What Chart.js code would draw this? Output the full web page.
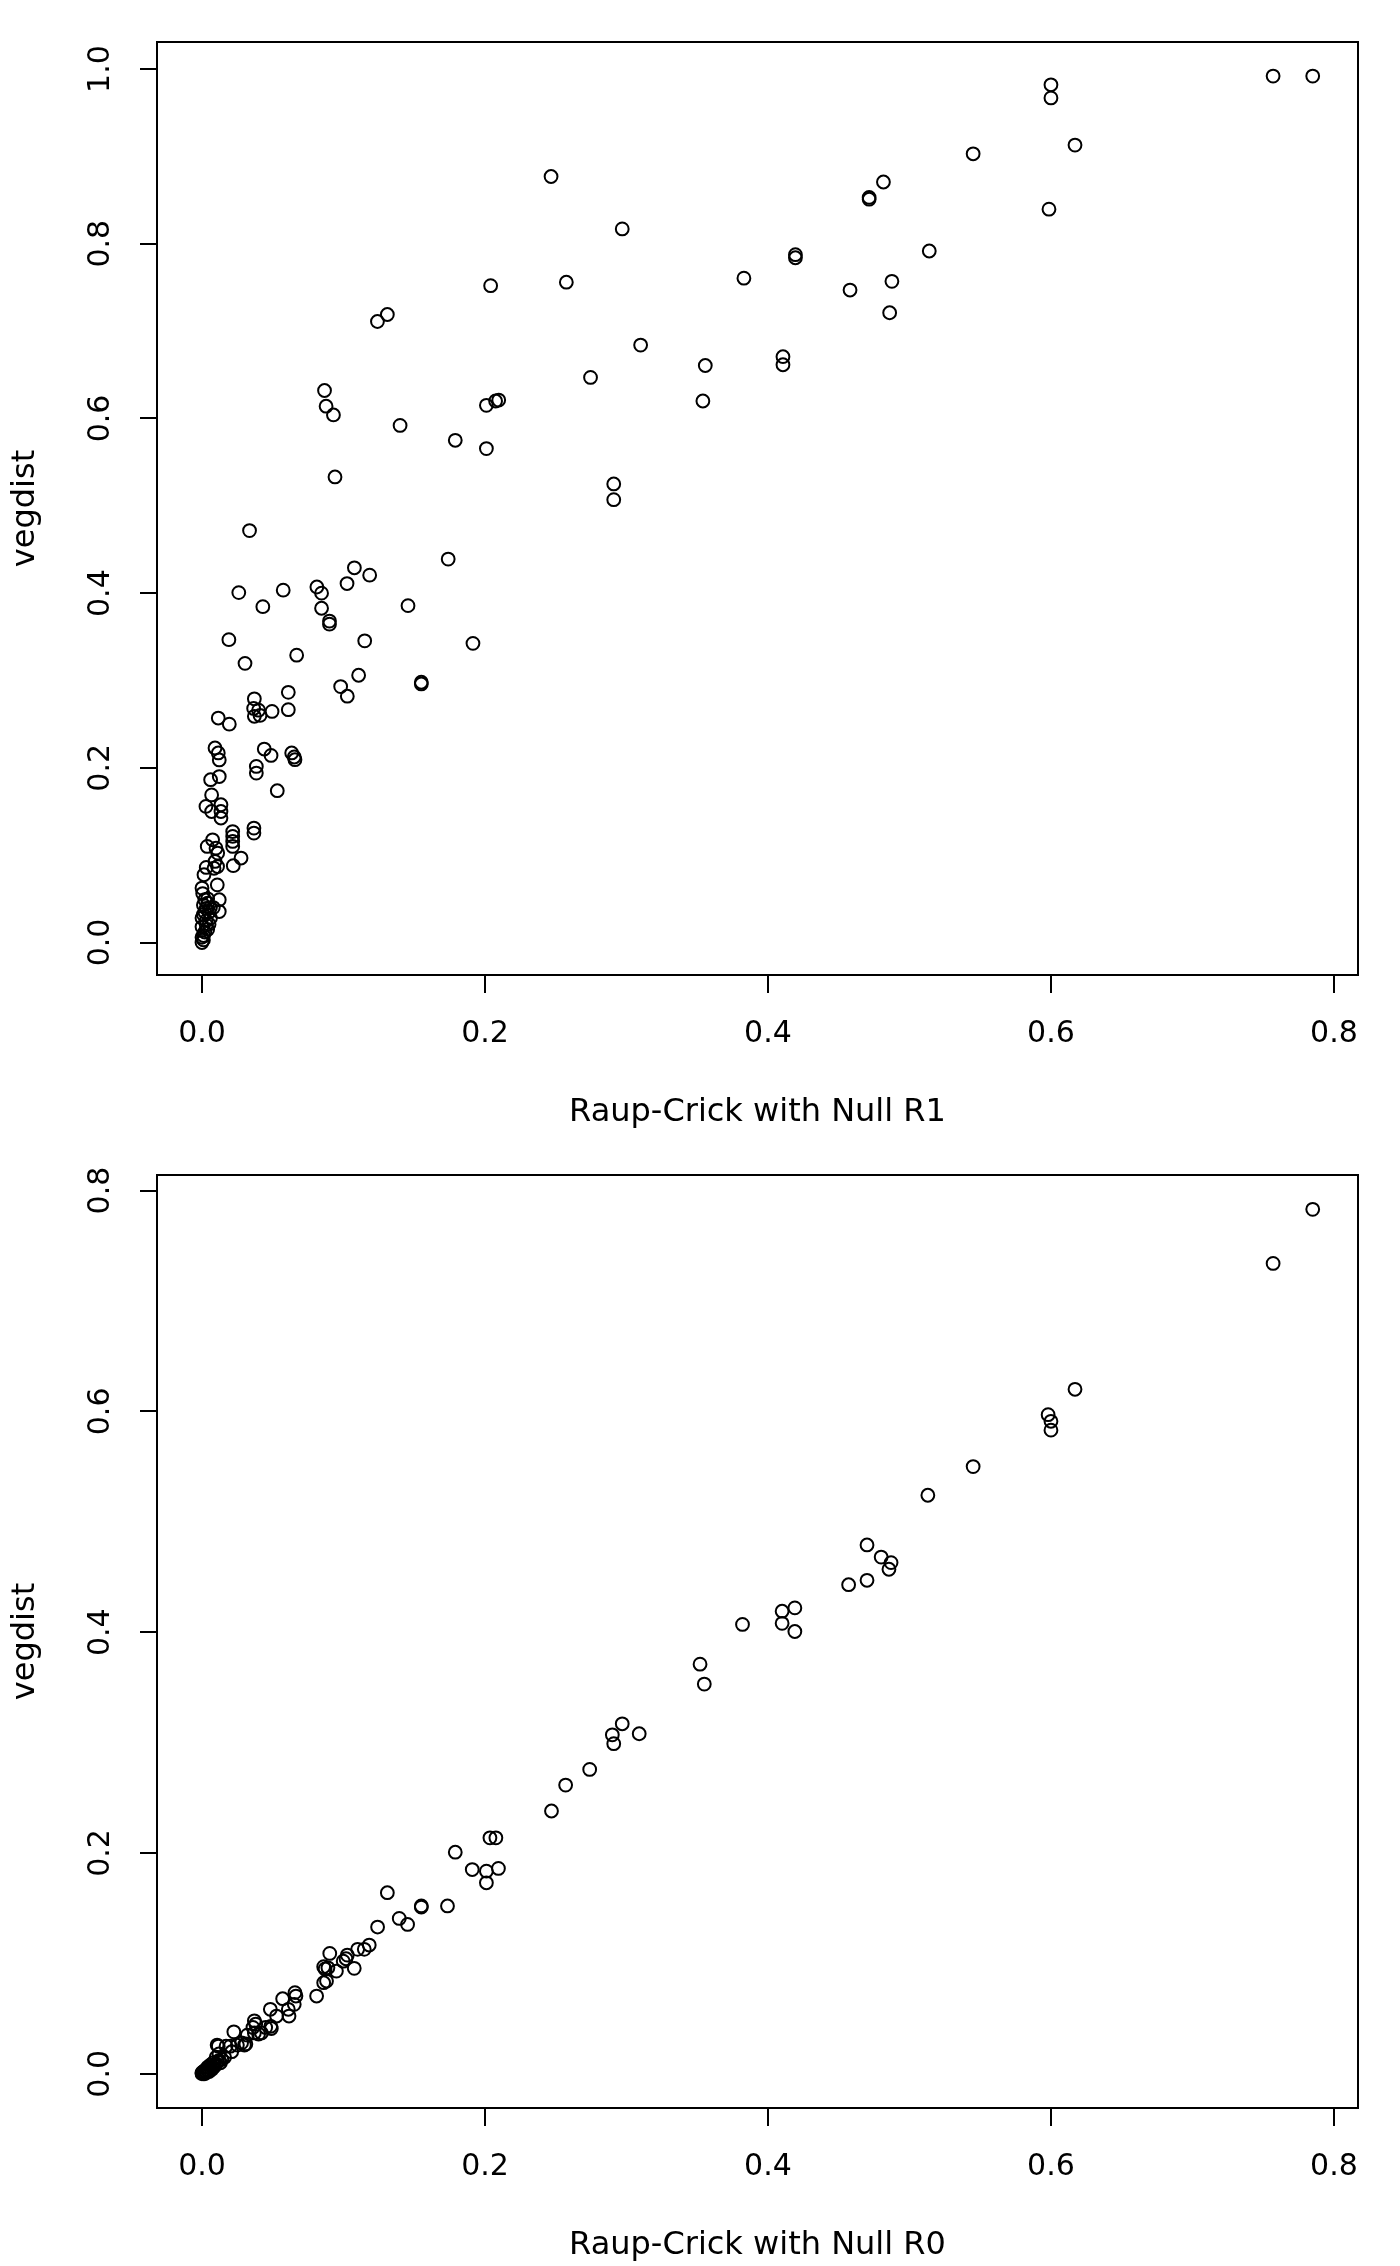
<!DOCTYPE html>
<html>
<head>
<meta charset="utf-8">
<script src="https://cdn.jsdelivr.net/npm/chart.js@4.4.0/dist/chart.umd.min.js"></script>
<style>
  body { margin: 0; background: #fff; }
  canvas { display: block; }
</style>
</head>
<body>
<canvas id="plotR1" width="1400" height="1133"></canvas>
<canvas id="plotR0" width="1400" height="1133"></canvas>
<script>
// Raup-Crick (null R1) vs vegdist
const r1X = [
  0.757, 0.785, 0.600, 0.600, 0.617, 0.545, 0.4816, 0.4715, 0.4715, 0.5986,
  0.514, 0.4194, 0.4194, 0.383, 0.4876, 0.458, 0.486, 0.4106, 0.4106, 0.3557,
  0.354, 0.310, 0.2746, 0.291, 0.291, 0.2467, 0.297, 0.2575, 0.204, 0.131,
  0.124, 0.0866, 0.0877, 0.0929, 0.140, 0.201, 0.2075, 0.2097, 0.179, 0.201,
  0.094, 0.0336, 0.174, 0.1077, 0.1185, 0.1025, 0.026, 0.0574, 0.0812, 0.0845,
  0.043, 0.0845, 0.1456, 0.0901, 0.0901, 0.019, 0.115, 0.1915, 0.0304, 0.0669,
  0.1107, 0.098, 0.1027, 0.155, 0.155, 0.061, 0.037, 0.0365, 0.040, 0.037,
  0.041, 0.0495, 0.061, 0.0115, 0.0193, 0.0092, 0.0115, 0.0122, 0.044, 0.0488,
  0.0634, 0.0652, 0.0657, 0.0384, 0.0384, 0.0122, 0.0061, 0.0532, 0.0068, 0.0028,
  0.0134, 0.0134, 0.0134, 0.0068, 0.0367, 0.0367, 0.0217, 0.0217, 0.0217, 0.0217,
  0.0075, 0.0037, 0.0099, 0.0111, 0.0276, 0.0221, 0.0092, 0.003, 0.0085, 0.011,
  0.0014, 0.0108, 0.0, 0.0122, 0.0122, 0.0005, 0.002, 0.004, 0.003, 0.005,
  0.001, 0.006, 0.003, 0.005, 0.0, 0.002, 0.0, 0.001, 0.008, 0.004, 0.0,
  0.001, 0.003, 0.002, 0.004, 0.001, 0.006, 0.0
];
const r1Y = [
  0.992, 0.992, 0.982, 0.967, 0.913, 0.903, 0.8707, 0.853, 0.851, 0.8396,
  0.7917, 0.7875, 0.784, 0.7606, 0.757, 0.747, 0.721, 0.6707, 0.6615, 0.6606,
  0.620, 0.684, 0.647, 0.525, 0.507, 0.877, 0.817, 0.756, 0.752, 0.719,
  0.711, 0.632, 0.614, 0.604, 0.592, 0.615, 0.620, 0.621, 0.575, 0.5655,
  0.533, 0.4716, 0.439, 0.429, 0.4206, 0.411, 0.4006, 0.4034, 0.407, 0.400,
  0.3845, 0.3827, 0.3857, 0.368, 0.3645, 0.3467, 0.3454, 0.3425, 0.3196, 0.329,
  0.306, 0.293, 0.282, 0.298, 0.296, 0.2864, 0.279, 0.268, 0.266, 0.259,
  0.260, 0.2646, 0.2666, 0.257, 0.250, 0.2227, 0.217, 0.209, 0.2215, 0.2142,
  0.217, 0.2124, 0.2093, 0.2016, 0.194, 0.190, 0.1864, 0.1738, 0.169, 0.1558,
  0.1577, 0.150, 0.1425, 0.150, 0.131, 0.1253, 0.127, 0.1215, 0.1157, 0.110,
  0.1176, 0.110, 0.108, 0.1024, 0.0967, 0.088, 0.0928, 0.086, 0.085, 0.087,
  0.0776, 0.066, 0.0623, 0.049, 0.0355, 0.056, 0.049, 0.045, 0.039, 0.035,
  0.032, 0.028, 0.025, 0.021, 0.018, 0.012, 0.006, 0.003, 0.040, 0.015, 0.0,
  0.008, 0.020, 0.035, 0.050, 0.043, 0.040, 0.028
];

// Raup-Crick (null R0) vs vegdist
const r0X = [
  0.785, 0.757, 0.617, 0.598, 0.600, 0.600, 0.545, 0.513, 0.470, 0.480,
  0.487, 0.4855, 0.457, 0.470, 0.419, 0.410, 0.410, 0.419, 0.382, 0.352,
  0.355, 0.297, 0.290, 0.291, 0.309, 0.274, 0.257, 0.247, 0.2035, 0.2077,
  0.179, 0.191, 0.201, 0.2095, 0.201, 0.131, 0.155, 0.155, 0.1735, 0.1394,
  0.1453, 0.1241, 0.1182, 0.1147, 0.110, 0.1027, 0.1018, 0.0903, 0.1076, 0.0998,
  0.095, 0.086, 0.087, 0.089, 0.088, 0.086, 0.081, 0.0657, 0.0664, 0.057,
  0.0652, 0.061, 0.0615, 0.0483, 0.0527, 0.037, 0.038, 0.036, 0.037, 0.042,
  0.045, 0.049, 0.0486, 0.040, 0.032, 0.028, 0.0225, 0.031, 0.025, 0.020,
  0.017, 0.021, 0.030, 0.0115, 0.0107, 0.010, 0.012, 0.008, 0.006, 0.004,
  0.003, 0.002, 0.001, 0.0, 0.0, 0.005, 0.009, 0.013, 0.002, 0.007,
  0.001, 0.003, 0.004, 0.006, 0.008, 0.010, 0.011, 0.014, 0.016, 0.012,
  0.005, 0.002
];
const r0Y = [
  0.783, 0.734, 0.620, 0.597, 0.591, 0.583, 0.550, 0.524, 0.479, 0.468,
  0.463, 0.457, 0.443, 0.447, 0.422, 0.419, 0.408, 0.4006, 0.407, 0.371,
  0.353, 0.317, 0.307, 0.299, 0.308, 0.2757, 0.2615, 0.238, 0.2137, 0.2137,
  0.2007, 0.185, 0.1835, 0.186, 0.173, 0.164, 0.152, 0.151, 0.152, 0.1407,
  0.1353, 0.1329, 0.1166, 0.1127, 0.1127, 0.1075, 0.1042, 0.109, 0.0955, 0.102,
  0.093, 0.097, 0.095, 0.096, 0.084, 0.0825, 0.0704, 0.0735, 0.0704, 0.068,
  0.0629, 0.0584, 0.0523, 0.0584, 0.0523, 0.048, 0.045, 0.042, 0.037, 0.037,
  0.042, 0.041, 0.043, 0.036, 0.035, 0.028, 0.038, 0.027, 0.026, 0.025,
  0.025, 0.020, 0.026, 0.025, 0.026, 0.015, 0.012, 0.010, 0.008, 0.006,
  0.004, 0.003, 0.002, 0.001, 0.0, 0.004, 0.007, 0.010, 0.001, 0.004,
  0.0, 0.002, 0.003, 0.005, 0.006, 0.009, 0.011, 0.013, 0.015, 0.018,
  0.002, 0.0
];

const xTitles = ['Raup-Crick with Null R1', 'Raup-Crick with Null R0'];
const yTitle = 'vegdist';

const FONT = 'DejaVu Sans';

const boxPlugin = {
  id: 'box',
  afterDatasetsDraw(chart) {
    const { ctx, chartArea: a } = chart;
    ctx.save();
    ctx.strokeStyle = '#000';
    ctx.lineWidth = 2;
    ctx.strokeRect(a.left, a.top, a.right - a.left, a.bottom - a.top);
    ctx.restore();
  }
};

const makePlot = (id, xs, ys, xTitle, xRange, yRange) => {
  const pts = xs.map((x, i) => ({ x, y: ys[i] }));
  return new Chart(document.getElementById(id), {
    type: 'scatter',
    data: {
      datasets: [{
        data: pts,
        pointStyle: 'circle',
        pointRadius: 6.4,
        pointHoverRadius: 6.4,
        borderColor: '#000',
        backgroundColor: 'rgba(0,0,0,0)',
        borderWidth: 2,
      }],
    },
    options: {
      responsive: false,
      animation: false,
      devicePixelRatio: 1,
      layout: { padding: { top: 42, right: 42, left: 0, bottom: 0 } },
      plugins: { legend: { display: false }, tooltip: { enabled: false } },
      scales: {
        x: {
          type: 'linear',
          min: xRange[0],
          max: xRange[1],
          afterFit: s => { s.height = 158; },
          border: { display: false },
          grid: { drawOnChartArea: false, drawTicks: true, tickLength: 18, color: '#000', lineWidth: 2 },
          ticks: {
            stepSize: 0.2,
            includeBounds: false,
            padding: 23,
            color: '#000',
            font: { family: FONT, size: 30 },
            maxRotation: 0,
            callback: v => v.toFixed(1),
          },
          title: {
            display: true,
            text: xTitle,
            color: '#000',
            font: { family: FONT, size: 32 },
            padding: { top: 0, bottom: 1 },
          },
        },
        y: {
          type: 'linear',
          min: yRange[0],
          max: yRange[1],
          afterFit: s => { s.width = 157; },
          border: { display: false },
          grid: { drawOnChartArea: false, drawTicks: true, tickLength: 17, color: '#000', lineWidth: 2 },
          ticks: {
            stepSize: 0.2,
            includeBounds: false,
            padding: 15,
            crossAlign: 'center',
            minRotation: 90,
            maxRotation: 90,
            color: '#000',
            font: { family: FONT, size: 30 },
            callback: v => v.toFixed(1),
          },
          title: {
            display: true,
            text: yTitle,
            color: '#000',
            font: { family: FONT, size: 32 },
            padding: { top: 6, bottom: 0 },
          },
        },
      },
    },
    plugins: [boxPlugin],
  });
};

makePlot('plotR1', r1X, r1Y, xTitles[0], [-0.0318, 0.817], [-0.0372, 1.031]);
makePlot('plotR0', r0X, r0Y, xTitles[1], [-0.0318, 0.817], [-0.0310, 0.8141]);
</script>
</body>
</html>
